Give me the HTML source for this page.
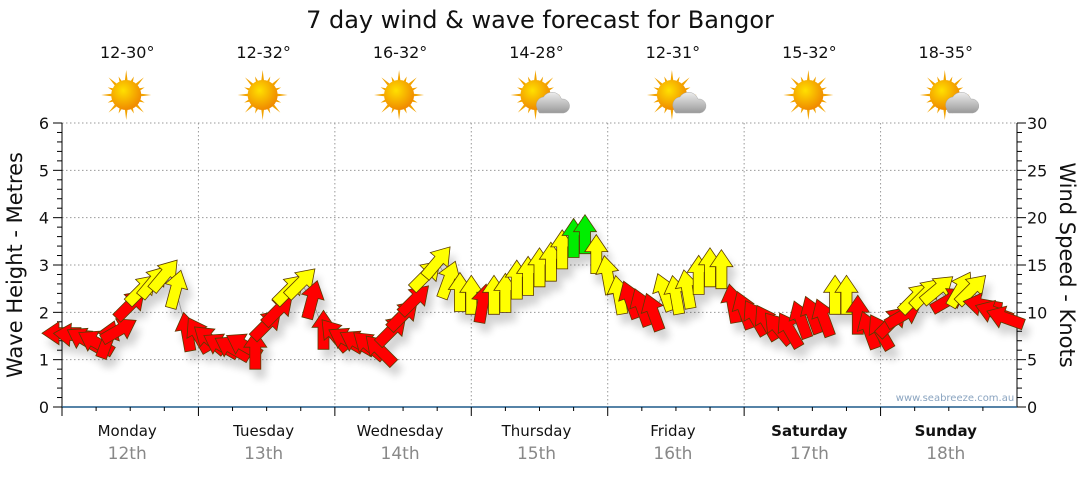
<!DOCTYPE html>
<html><head><meta charset="utf-8"><style>
body{margin:0;background:#fff;font-family:"Liberation Sans",sans-serif}
svg text{font-family:"DejaVu Sans","Liberation Sans",sans-serif}
</style></head><body>
<svg id="c" width="1080" height="475" viewBox="0 0 1080 475">
<defs>
<filter id="sh" x="-50%" y="-50%" width="200%" height="200%"><feGaussianBlur in="SourceAlpha" stdDeviation="4"/><feOffset dx="5" dy="9"/><feComponentTransfer><feFuncA type="linear" slope="0.18"/></feComponentTransfer><feMerge><feMergeNode/><feMergeNode in="SourceGraphic"/></feMerge></filter>
<radialGradient id="sun" cx="40%" cy="35%" r="65%"><stop offset="0" stop-color="#ffe000"/><stop offset="1" stop-color="#f08a00"/></radialGradient>
<linearGradient id="cloud" x1="0" y1="0" x2="0" y2="1"><stop offset="0" stop-color="#eee"/><stop offset="1" stop-color="#999"/></linearGradient>
</defs>
<text x="540" y="28" text-anchor="middle" font-size="24" fill="#111">7 day wind &amp; wave forecast for Bangor</text>
<g id="grid"></g><g id="axes"></g><g id="marks" filter="url(#sh)"></g><g id="topg"></g>
<text x="955" y="401" text-anchor="middle" font-size="10" fill="#8aa4c0">www.seabreeze.com.au</text>
<text transform="translate(22,265) rotate(-90)" text-anchor="middle" font-size="21" fill="#111">Wave Height - Metres</text>
<text transform="translate(1060,265) rotate(90)" text-anchor="middle" font-size="21" fill="#111">Wind Speed - Knots</text>
</svg>
<script>
const days=["Monday","Tuesday","Wednesday","Thursday","Friday","Saturday","Sunday"];
const dates=["12th","13th","14th","15th","16th","17th","18th"];
const temps=["12-30°","12-32°","16-32°","14-28°","12-31°","15-32°","18-35°"];
const icons=["sun","sun","sun","cloud","cloud","sun","cloud"];
const leftTicks=[0,1,2,3,4,5,6];
const rightTicks=[0,5,10,15,20,25,30];
const windSpeed=[7.8,7.6,7.1,6.8,7.1,8.1,10.8,12.4,13.2,13.9,12.4,7.9,
7.6,7.1,6.5,6.2,6.5,6.0,8.7,10.2,12.4,13.1,11.3,8.1,
7.6,7.1,6.8,6.5,6.0,8.1,9.7,11.3,13.9,15.3,13.4,12.1,
11.8,10.9,11.8,12.0,13.4,13.8,14.7,15.3,16.6,17.8,18.2,16.1,
13.9,11.8,11.3,10.5,10.0,12.1,11.8,12.4,13.9,14.7,14.5,10.9,
10.2,9.4,8.9,8.3,8.1,9.2,9.7,9.4,11.8,11.8,9.7,8.1,
7.9,9.0,9.7,11.5,12.0,12.4,11.3,12.4,12.4,10.8,10.0,9.4];
const windDir=[270,275,300,300,20,60,45,45,40,40,15,-10,
-30,-50,-60,-60,-60,0,45,45,45,45,15,0,
-40,-60,-60,-50,-45,45,45,45,45,40,20,0,
0,10,0,0,0,0,0,0,0,0,0,0,
-10,-10,-20,-20,-20,-20,-10,-10,0,0,0,-10,
-20,-30,-30,-40,-30,-20,-20,-20,0,0,0,-20,
-30,45,60,45,45,50,60,30,45,-80,-70,-70];
const windCol=["r","r","r","r","r","r","r","y","y","y","y","r",
"r","r","r","r","r","r","r","r","y","y","r","r",
"r","r","r","r","r","r","r","r","y","y","y","y",
"y","r","y","y","y","y","y","y","y","g","g","y",
"y","y","r","r","r","y","y","y","y","y","y","r",
"r","r","r","r","r","r","r","r","y","y","r","r",
"r","r","r","y","y","y","r","y","y","r","r","r"];
const X0=62,X1=1017,Y0=407,Y1=123,dayW=(X1-X0)/7;
const xHour=h=>X0+h*dayW/24;
const yM=m=>Y0-(Y0-Y1)*m/6;
const yK=k=>Y0-(Y0-Y1)*k/30;
const NS="http://www.w3.org/2000/svg";
function mk(tag,at,par){const e=document.createElementNS(NS,tag);for(const k in at)e.setAttribute(k,at[k]);par.appendChild(e);return e;}
const grid=document.getElementById('grid'),axes=document.getElementById('axes'),marks=document.getElementById('marks'),topG=document.getElementById('topg');
leftTicks.forEach(v=>{if(v>0){const l=mk('line',{x1:X0,x2:X1,y1:yM(v),y2:yM(v),stroke:'#999','stroke-dasharray':'1.5,2.5'},grid);

}
const t=mk('text',{x:49,y:yM(v)+6,'text-anchor':'end','font-size':16,fill:'#111'},axes);t.textContent=v;


for(let i=1;i<5&&v<6;i++)mk('line',{x1:X0-5,x2:X0,y1:yM(v+i/5),y2:yM(v+i/5),stroke:'#000'},axes);
mk('line',{x1:X0-9,x2:X0,y1:yM(v),y2:yM(v),stroke:'#000'},axes);});
rightTicks.forEach(v=>{const t=mk('text',{x:1027,y:yK(v)+6,'font-size':16,fill:'#111'},axes);t.textContent=v;


mk('line',{x1:X1,x2:X1+9,y1:yK(v),y2:yK(v),stroke:'#000'},axes);
for(let i=1;i<5&&v<30;i++)mk('line',{x1:X1,x2:X1+5,y1:yK(v+i),y2:yK(v+i),stroke:'#000'},axes);});
mk('line',{x1:X0,x2:X0,y1:Y1,y2:Y0,stroke:'#000'},axes);
mk('line',{x1:X1,x2:X1,y1:Y1,y2:Y0,stroke:'#000'},axes);
mk('line',{x1:X0,x2:X1,y1:Y0,y2:Y0,stroke:'#1f5a8a','stroke-width':1.5},axes);
days.forEach((d,i)=>{const xs=X0+i*dayW,xc=xs+dayW/2;
if(i>0){const g=mk('line',{x1:xs,x2:xs,y1:Y1,y2:Y0,stroke:'#999','stroke-dasharray':'1.5,2.5'},grid);

}
mk('line',{x1:xs,x2:xs,y1:Y0,y2:Y0+9,stroke:'#000'},axes);
for(let q=1;q<4;q++)mk('line',{x1:xs+q*dayW/4,x2:xs+q*dayW/4,y1:Y0,y2:Y0+4,stroke:'#000'},axes);
const bold=i>=5?'bold':'normal';
const t=mk('text',{x:xc-3,y:436,'text-anchor':'middle','font-size':15,'font-weight':bold,fill:'#111'},axes);t.textContent=d;


const t2=mk('text',{x:xc-3,y:459,'text-anchor':'middle','font-size':17,fill:'#888'},axes);t2.textContent=dates[i];


const t3=mk('text',{x:xc-3,y:58,'text-anchor':'middle','font-size':16,fill:'#111'},topG);t3.textContent=temps[i];


const g=mk('g',{transform:`translate(${xc-4},95)`},topG);


for(let r=0;r<16;r++){const a=r*Math.PI/8,L=r%2?20:25;mk('polygon',{points:`${Math.cos(a-0.12)*13},${Math.sin(a-0.12)*13} ${Math.cos(a)*L},${Math.sin(a)*L} ${Math.cos(a+0.12)*13},${Math.sin(a+0.12)*13}`,fill:'#f2a300'},g);}
mk('circle',{cx:0,cy:0,r:15,fill:'url(#sun)'},g);
if(icons[i]==='cloud'){mk('path',{d:'M2,14 a8,8 0 0 1 6,-12 a10,10 0 0 1 18,2 a7,7 0 0 1 2,14 h-24 a6,6 0 0 1 -2,-4z',fill:'url(#cloud)',stroke:'#aaa','stroke-width':0.5},g);}
});
let dstr='';windSpeed.forEach((k,i)=>{dstr+=(i?'L':'M')+xHour(i*2).toFixed(1)+','+yK(k).toFixed(1);});
const pl=mk('path',{d:dstr,fill:'none',stroke:'#999','stroke-width':1},marks);


const cols={r:'#ff0000',y:'#ffff00',g:'#00ee00'};
const arrowPts="0,-20 11.5,-3 5.5,-3 5.5,19 -5.5,19 -5.5,-3 -11.5,-3";
windSpeed.forEach((k,i)=>{const a=mk('polygon',{points:arrowPts,transform:`translate(${xHour(i*2).toFixed(1)},${yK(k).toFixed(1)}) rotate(${windDir[i]})`,fill:cols[windCol[i]],stroke:'#5a3a00','stroke-width':0.8,'stroke-linejoin':'miter'},marks);

});
</script>
</body></html>
